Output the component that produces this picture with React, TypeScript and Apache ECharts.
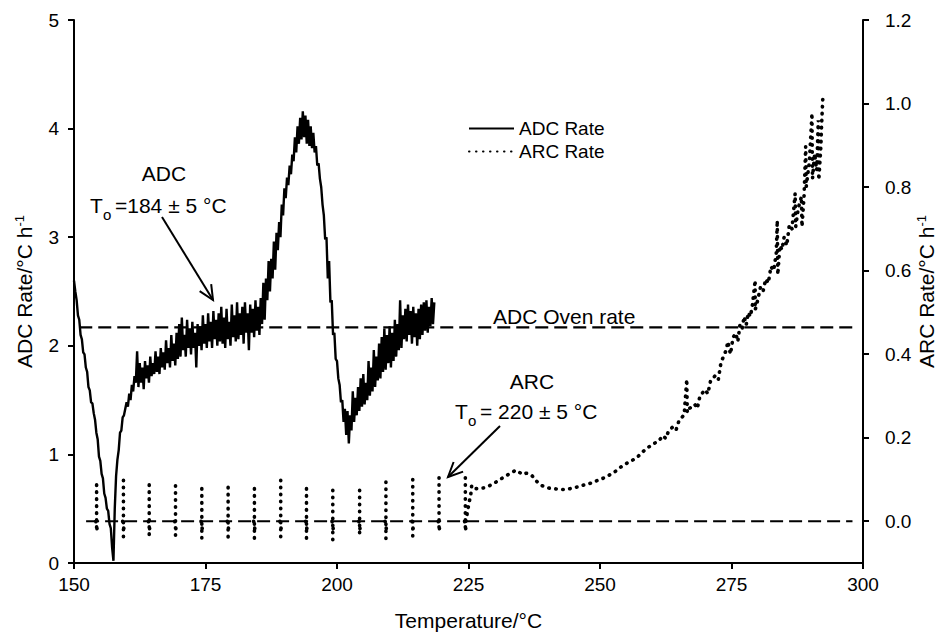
import React, { useEffect, useRef } from "react";
import * as echarts from "echarts";

const FONT = '"Liberation Sans", Arial, Helvetica, sans-serif';

// ADC rate, sampled every 0.25 °C starting at 150 °C (left axis, °C/h)
const ADC_T_START = 150;
const ADC_T_STEP = 0.25;
const adcRate = [
  2.60, 2.50, 2.42, 2.28, 2.24, 2.10, 2.06, 1.94,
  1.92, 1.80, 1.76, 1.62, 1.59, 1.48, 1.47, 1.38,
  1.32, 1.20, 1.14, 0.98, 0.94, 0.82, 0.78, 0.64,
  0.60, 0.50, 0.48, 0.36, 0.32, 0.14, 0.02, 0.50,
  0.80, 0.95, 1.04, 1.20, 1.22, 1.34, 1.36, 1.42,
  1.48, 1.44, 1.56, 1.50, 1.64, 1.58, 1.72, 1.66,
  1.95, 1.62, 1.84, 1.66, 1.80, 1.60, 1.86, 1.70,
  1.82, 1.66, 1.90, 1.72, 1.84, 1.74, 1.95, 1.76,
  1.90, 1.74, 1.98, 1.80, 1.94, 1.78, 2.05, 1.84,
  1.98, 1.80, 2.10, 1.86, 2.02, 1.82, 2.12, 1.88,
  2.20, 1.90, 2.26, 1.96, 2.10, 1.90, 2.24, 1.98,
  2.16, 1.92, 2.22, 1.98, 2.12, 1.80, 2.20, 2.00,
  2.18, 1.96, 2.28, 2.02, 2.20, 1.98, 2.30, 2.04,
  2.22, 1.98, 2.32, 2.06, 2.24, 2.00, 2.30, 2.04,
  2.36, 2.02, 2.26, 1.98, 2.34, 2.06, 2.22, 2.00,
  2.38, 2.08, 2.28, 2.04, 2.40, 2.06, 2.30, 2.10,
  2.36, 2.02, 2.40, 2.12, 2.30, 1.96, 2.38, 2.12,
  2.34, 2.08, 2.42, 2.14, 2.36, 2.10, 2.44, 2.20,
  2.58, 2.24, 2.62, 2.42, 2.78, 2.50, 2.80, 2.62,
  2.96, 2.70, 3.04, 2.88, 3.14, 3.00, 3.30, 3.20,
  3.45, 3.36, 3.55, 3.48, 3.66, 3.58, 3.76, 3.70,
  3.92, 3.78, 4.02, 3.86, 4.10, 3.90, 4.16, 3.92,
  4.12, 3.86, 4.08, 3.84, 4.02, 3.82, 3.96, 3.78,
  3.84, 3.66, 3.68, 3.54, 3.46, 3.30, 3.20, 2.98,
  3.00, 2.62, 2.78, 2.40, 2.42, 2.10, 2.12, 1.88,
  1.86, 1.70, 1.64, 1.48, 1.50, 1.30, 1.42, 1.18,
  1.40, 1.10, 1.36, 1.22, 1.58, 1.30, 1.52, 1.36,
  1.62, 1.40, 1.70, 1.44, 1.74, 1.46, 1.66, 1.50,
  1.86, 1.54, 1.80, 1.58, 1.96, 1.62, 1.90, 1.68,
  2.02, 1.70, 2.08, 1.76, 2.16, 1.78, 2.10, 1.84,
  2.18, 1.80, 2.12, 1.86, 2.24, 1.90, 2.20, 1.96,
  2.42, 1.98, 2.28, 2.06, 2.34, 2.04, 2.38, 2.10,
  2.32, 2.02, 2.36, 2.08, 2.30, 2.00, 2.34, 2.06,
  2.38, 2.10, 2.40, 2.14, 2.42, 2.12, 2.36, 2.18,
  2.44, 2.20, 2.40,
];

// ARC heat-wait-search steps (right axis, °C/h)
const arcStepTemp = [154.3, 159.4, 164.3, 169.3, 174.3, 179.3, 184.3, 189.3, 194.2, 199.2, 204.3, 209.3, 214.4, 219.4, 224.4];
const arcStepTop = [0.087, 0.098, 0.087, 0.085, 0.078, 0.081, 0.078, 0.098, 0.078, 0.074, 0.074, 0.094, 0.1, 0.104, 0.104];
const arcStepBottom = [-0.026, -0.038, -0.038, -0.034, -0.04, -0.052, -0.044, -0.038, -0.042, -0.047, -0.034, -0.042, -0.04, -0.02, -0.017];

// ARC exotherm tracking
const arcExoTemp = [
  224.5, 224.9, 225.2, 225.4, 225.6, 226.0, 227, 228, 229, 230, 231, 232, 233, 234, 234.6, 235.2, 236, 237, 238, 239,
  240, 241, 242, 243, 244, 245, 246, 247, 248, 249, 250, 251, 252, 253, 254, 255, 256, 257, 258, 259,
  260, 261, 262, 262.5, 263, 264, 264.5, 265, 266, 266.5, 266.6, 267, 268, 268.5, 269, 270, 270.5, 271, 272, 272.5,
  273, 274, 274.3, 274.8, 275.3, 275.8, 276.2, 276.6, 277, 277.4, 277.8, 278.2, 278.6, 279, 279.5, 279.5, 280, 280.5, 281, 281.5,
  282, 282.5, 283, 283.5, 283.7, 283.8, 284.2, 284.6, 285, 285.5, 286, 286.5, 287.1, 287.2, 287.7, 288.3, 288.4, 288.8, 289.1, 289.2,
  289.8, 290.3, 290.4, 290.8, 291.2, 291.5, 291.6, 292, 292.1, 292.4,
];
const arcExoRate = [
  0.0, 0.03, 0.05, 0.06, 0.085, 0.078, 0.078, 0.08, 0.085, 0.092, 0.1, 0.108, 0.115, 0.122, 0.118, 0.112, 0.115, 0.11, 0.095, 0.085,
  0.08, 0.078, 0.077, 0.076, 0.077, 0.08, 0.083, 0.087, 0.09, 0.095, 0.1, 0.105, 0.112, 0.12, 0.13, 0.138, 0.145, 0.152, 0.165, 0.175,
  0.185, 0.19, 0.205, 0.198, 0.215, 0.228, 0.22, 0.24, 0.255, 0.34, 0.26, 0.27, 0.28, 0.27, 0.3, 0.315, 0.305, 0.335, 0.35, 0.34,
  0.38, 0.41, 0.43, 0.40, 0.44, 0.45, 0.43, 0.47, 0.46, 0.49, 0.47, 0.50, 0.49, 0.52, 0.577, 0.506, 0.53, 0.56, 0.55, 0.58,
  0.57, 0.61, 0.60, 0.64, 0.72, 0.59, 0.66, 0.65, 0.68, 0.66, 0.71, 0.70, 0.785, 0.705, 0.75, 0.777, 0.705, 0.78, 0.897, 0.80,
  0.86, 0.977, 0.82, 0.88, 0.84, 0.96, 0.817, 0.90, 0.94, 1.025,
];

const adcOvenRate = 2.17;
const ovenLineRange = [151, 298];
const arcBaseRate = 0;
const arcBaseRange = [152.3, 298];

const rightTicks = [0, 0.2, 0.4, 0.6, 0.8, 1.0, 1.2];

export default function App() {
  const ref = useRef<HTMLDivElement>(null);

  useEffect(() => {
    if (!ref.current) return;
    const chart = echarts.init(ref.current, undefined, { renderer: "svg" });

    const adcData = adcRate.map((v, i) => [ADC_T_START + i * ADC_T_STEP, v]);

    const arcData: any[] = [];
    arcStepTemp.forEach((t, i) => {
      arcData.push([t, arcStepTop[i]]);
      arcData.push([t, arcStepBottom[i]]);
      arcData.push([t, null]);
      arcData.push([t - 0.15, 0.0]);
      arcData.push([t + 0.1, -0.02]);
      arcData.push([t - 0.1, -0.012]);
      arcData.push([t, null]);
    });
    arcExoTemp.forEach((t, i) => arcData.push([t, arcExoRate[i]]));

    const black = "#000";
    const dashed = { color: black, width: 2.2, type: [13, 6] as any };

    const arrowHead = (x1: number, y1: number, x2: number, y2: number) => {
      const dx = x2 - x1, dy = y2 - y1;
      const L = Math.hypot(dx, dy);
      const ux = dx / L, uy = dy / L;
      const a = (25 * Math.PI) / 180, h = 16;
      const r1 = [Math.cos(a) * ux - Math.sin(a) * uy, Math.sin(a) * ux + Math.cos(a) * uy];
      const r2 = [Math.cos(a) * ux + Math.sin(a) * uy, -Math.sin(a) * ux + Math.cos(a) * uy];
      return [
        { type: "line", shape: { x1, y1, x2, y2 }, style: { stroke: black, lineWidth: 2 } },
        {
          type: "polyline",
          shape: { points: [[x2 - h * r1[0], y2 - h * r1[1]], [x2, y2], [x2 - h * r2[0], y2 - h * r2[1]]] },
          style: { stroke: black, lineWidth: 2, fill: null },
        },
      ];
    };

    const txt = (text: string, x: number, y: number, size: number, align = "left") => ({
      type: "text",
      x,
      y,
      style: { text, fill: black, font: `${size}px ${FONT}`, textAlign: align, textVerticalAlign: "middle" },
    });

    chart.setOption({
      animation: false,
      textStyle: { fontFamily: FONT, color: black },
      grid: { left: 74, right: 79, top: 20, bottom: 71, containLabel: false, outerBoundsMode: "none" },
      legend: {
        data: ["ADC Rate", "ARC Rate"],
        orient: "vertical",
        left: 463,
        top: 114,
        itemWidth: 45,
        itemHeight: 14,
        itemGap: 4,
        itemStyle: { opacity: 0 },
        textStyle: { fontSize: 19, color: black, fontFamily: FONT },
      },
      xAxis: {
        type: "value",
        min: 150,
        max: 300,
        interval: 25,
        name: "Temperature/°C",
        nameLocation: "middle",
        nameGap: 47,
        nameTextStyle: { fontSize: 21, color: black, fontFamily: FONT },
        axisLine: { lineStyle: { color: black, width: 2 } },
        axisTick: { length: 6, lineStyle: { color: black, width: 2 } },
        axisLabel: { fontSize: 19, color: black, margin: 12, fontFamily: FONT },
        splitLine: { show: false },
      },
      yAxis: [
        {
          type: "value",
          min: 0,
          max: 5,
          interval: 1,
          name: "ADC Rate/°C h{sup|-1}",
          nameLocation: "middle",
          nameGap: 38,
          nameRotate: 90,
          nameTextStyle: {
            fontSize: 21,
            color: black,
            fontFamily: FONT,
            rich: { sup: { fontSize: 13, verticalAlign: "top", padding: [0, 0, 10, 0], color: black, fontFamily: FONT } },
          },
          axisLine: { show: true, lineStyle: { color: black, width: 2 } },
          axisTick: { show: true, length: 6, lineStyle: { color: black, width: 2 } },
          axisLabel: { fontSize: 19, color: black, margin: 15, fontFamily: FONT },
          splitLine: { show: false },
        },
        {
          type: "value",
          min: -0.1,
          max: 1.2,
          position: "right",
          name: "ARC Rate/°C h{sup|-1}",
          nameLocation: "middle",
          nameGap: 52,
          nameMoveOverlap: false,
          nameRotate: 90,
          nameTextStyle: {
            fontSize: 21,
            color: black,
            fontFamily: FONT,
            rich: { sup: { fontSize: 13, verticalAlign: "top", padding: [0, 0, 10, 0], color: black, fontFamily: FONT } },
          },
          axisLine: { show: true, lineStyle: { color: black, width: 2 } },
          axisTick: { show: true, length: 6, lineStyle: { color: black, width: 2 }, customValues: rightTicks },
          axisLabel: {
            fontSize: 19,
            color: black,
            margin: 22,
            fontFamily: FONT,
            customValues: rightTicks,
            formatter: (v: number) => v.toFixed(1),
          },
          splitLine: { show: false },
        },
      ],
      series: [
        {
          name: "ADC Oven rate",
          type: "line",
          yAxisIndex: 0,
          symbol: "none",
          silent: true,
          data: ovenLineRange.map((t) => [t, adcOvenRate]),
          lineStyle: dashed,
          z: 1,
        },
        {
          name: "ARC baseline",
          type: "line",
          yAxisIndex: 1,
          symbol: "none",
          silent: true,
          data: arcBaseRange.map((t) => [t, arcBaseRate]),
          lineStyle: dashed,
          z: 1,
        },
        {
          name: "ADC Rate",
          type: "line",
          yAxisIndex: 0,
          symbol: "none",
          data: adcData,
          lineStyle: { color: black, width: 2.4 },
          itemStyle: { color: black },
          z: 3,
        },
        {
          name: "ARC Rate",
          type: "line",
          yAxisIndex: 1,
          symbol: "none",
          connectNulls: false,
          data: arcData,
          lineStyle: { color: black, width: 3.6, type: [0.5, 6.5], cap: "round" },
          itemStyle: { color: black },
          z: 4,
        },
      ],
      graphic: [
        txt("ADC", 164, 173, 21, "center"),
        txt("T", 90, 205, 21),
        txt("o", 103, 214, 15),
        txt("=184 ± 5 °C", 115, 205, 21),
        ...arrowHead(162, 217, 213, 300),
        txt("ADC Oven rate", 493, 316, 21),
        txt("ARC", 532, 381, 21, "center"),
        txt("T", 455, 411, 21),
        txt("o", 468, 420, 15),
        txt("= 220 ± 5 °C", 480, 411, 21),
        ...arrowHead(500, 426, 448, 477),
      ],
    });

    return () => chart.dispose();
  }, []);

  return <div ref={ref} style={{ position: "fixed", left: 0, top: 0, width: 942, height: 634, background: "#fff" }} />;
}
